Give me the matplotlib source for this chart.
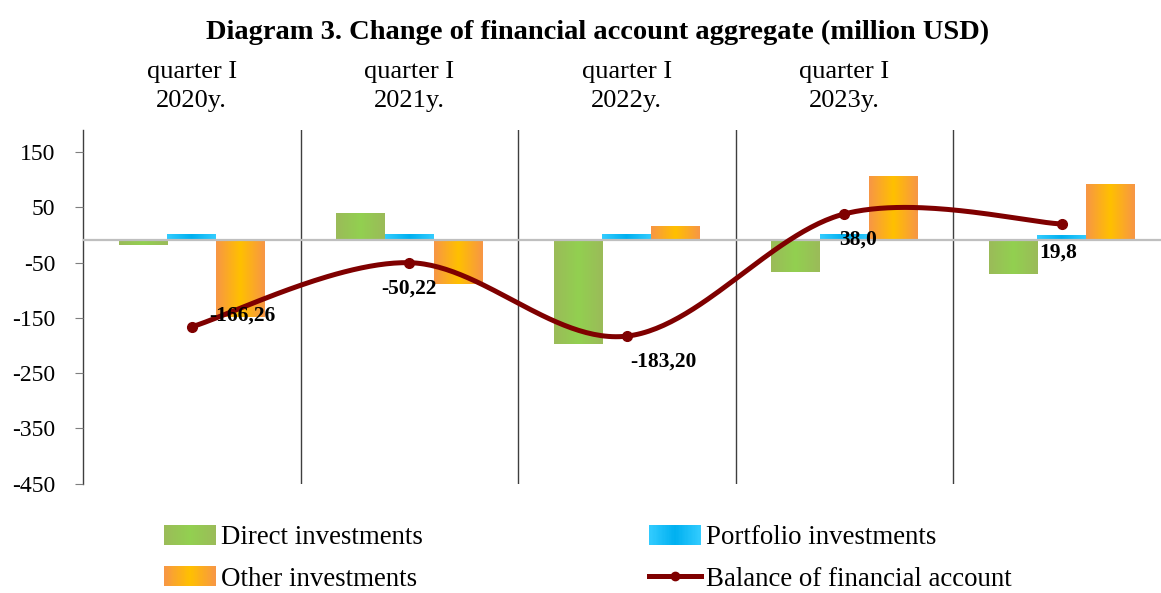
import numpy as np
import matplotlib
matplotlib.use("Agg")
import matplotlib.pyplot as plt
from matplotlib.colors import LinearSegmentedColormap
from matplotlib.patches import Rectangle, Patch
from matplotlib.lines import Line2D
from matplotlib.legend_handler import HandlerBase

# ---------------- data ----------------
categories = ["quarter I\n2020y.", "quarter I\n2021y.", "quarter I\n2022y.",
              "quarter I\n2023y.", ""]
direct = [-9, 48, -188, -57, -61]
portfolio = [10, 10, 10, 10, 8]
other = [-138, -79, 24, 115, 100]
balance = [-166.26, -50.22, -183.20, 38.0, 19.8]
balance_labels = ["-166,26", "-50,22", "-183,20", "38,0", "19,8"]
yticks = [150, 50, -50, -150, -250, -350, -450]

series_names = ["Direct investments", "Portfolio investments",
                "Other investments", "Balance of financial account"]

plt.rcParams['font.family'] = ['Liberation Serif', 'DejaVu Serif']
plt.rcParams['axes.unicode_minus'] = False

# gradient colours (edge, centre)
grad_colors = {
    "direct": ("#9BBB59", "#92D050"),
    "portfolio": ("#33CCFF", "#00B0F0"),
    "other": ("#F79646", "#FFC000"),
}
line_color = "#7F0000"

W, H = 1161, 593
fig = plt.figure(figsize=(W / 100, H / 100), dpi=100)

left_px, right_px, top_px, bottom_px = 83, 1161, 130, 483.5
ax = fig.add_axes([left_px / W, (H - bottom_px) / H,
                   (right_px - left_px) / W, (bottom_px - top_px) / H])

group_px = 217.5
x = np.arange(len(categories))
bw = 0.223

def make_cmap(key):
    e, c = grad_colors[key]
    return LinearSegmentedColormap.from_list(key, [e, c])

s = np.linspace(0, 1, 128)
profile = (1 - np.abs(2 * s - 1))[None, :]

for vals, off, key in [(direct, -bw, "direct"), (portfolio, 0, "portfolio"),
                       (other, bw, "other")]:
    bars = ax.bar(x + off, vals, width=bw, color="none", edgecolor="none", zorder=2)
    cmap = make_cmap(key)
    for r in bars:
        x0, y0, w, h = r.get_x(), r.get_y(), r.get_width(), r.get_height()
        ax.imshow(profile, extent=(x0, x0 + w, min(y0, y0 + h), max(y0, y0 + h)),
                  aspect="auto", cmap=cmap, vmin=0, vmax=1, zorder=2,
                  interpolation="bilinear")

ax.axhline(0, color="#BFBFBF", lw=1.6, zorder=3)
for b in np.arange(0.5, len(categories) - 0.5, 1.0):
    ax.axvline(b, color="#3F3F3F", lw=1.0, zorder=1)

ax.set_xlim(-0.5, -0.5 + (right_px - left_px) / group_px)
ax.set_ylim(-440.2, 199.8)
ax.set_yticks([])
for sp in ["top", "right", "bottom"]:
    ax.spines[sp].set_visible(False)
ax.spines["left"].set_color("#3F3F3F")
ax.spines["left"].set_linewidth(1.0)

ax.xaxis.tick_top()
ax.set_xticks(x, categories)
ax.tick_params(axis="x", length=0, pad=13, labelsize=19)
for t in ax.get_xticklabels():
    t.set_linespacing(1.42)

# line axis (visible y-axis)
ax2 = ax.twinx()
ax2.set_ylim(-450, 190)
ax2.yaxis.set_ticks_position("left")
ax2.yaxis.set_label_position("left")
ax2.set_yticks(yticks)
ax2.tick_params(axis="y", direction="out", length=6, color="#7F7F7F",
                pad=14, labelsize=17)
for sp in ["top", "right", "bottom", "left"]:
    ax2.spines[sp].set_visible(False)

# smooth line (Catmull-Rom style bezier as in Excel)
P = np.column_stack([x, balance]).astype(float)
curve = []
n = len(P)
t = np.linspace(0, 1, 60)
for i in range(n - 1):
    p0 = P[i]
    p3 = P[i + 1]
    pm = P[i - 1] if i > 0 else P[i]
    pp = P[i + 2] if i + 2 < n else P[i + 1]
    c1 = p0 + (p3 - pm) / 6
    c2 = p3 - (pp - p0) / 6
    seg = ((1 - t)[:, None] ** 3 * p0 + 3 * ((1 - t) ** 2 * t)[:, None] * c1
           + 3 * ((1 - t) * t ** 2)[:, None] * c2 + (t ** 3)[:, None] * p3)
    curve.append(seg if i == 0 else seg[1:])
curve = np.vstack(curve)
ax2.plot(curve[:, 0], curve[:, 1], color=line_color, lw=3.6, zorder=4,
         solid_capstyle="round")
ax2.plot(x, balance, "o", color=line_color, ms=7, zorder=5)

offsets = [(51, 11), (0, -26), (37, -25), (14, -26), (-4, -29)]
for xi, v, lab, off in zip(x, balance, balance_labels, offsets):
    ax2.annotate(lab, (xi, v), xytext=off, textcoords="offset pixels",
                 ha="center", va="center", fontsize=15.5, fontweight="bold",
                 zorder=6)

fig.text(597.5 / W, 1 - 32 / H,
         "Diagram 3. Change of financial account aggregate (million USD)",
         ha="center", va="center", fontsize=20.5, fontweight="bold")

# legend with gradient patches
class GradientPatch(Patch):
    def __init__(self, key, **kw):
        super().__init__(**kw)
        self.key = key

class HandlerGradient(HandlerBase):
    def create_artists(self, legend, orig_handle, xdescent, ydescent,
                       width, height, fontsize, trans):
        cmap = make_cmap(orig_handle.key)
        nstrip = 40
        arts = []
        for k in range(nstrip):
            c = (k + 0.5) / nstrip
            val = 1 - abs(2 * c - 1)
            r = Rectangle((-xdescent + k * width / nstrip, -ydescent),
                          width / nstrip * 1.05, height,
                          facecolor=cmap(val), edgecolor="none", transform=trans)
            arts.append(r)
        return arts

h_direct = GradientPatch("direct")
h_port = GradientPatch("portfolio")
h_other = GradientPatch("other")
h_bal = Line2D([], [], color=line_color, lw=3.6, marker="o", ms=6)

handles = [h_direct, h_other, h_port, h_bal]
labels = [series_names[0], series_names[2], series_names[1], series_names[3]]
leg = fig.legend(handles, labels, ncol=2, loc="upper left",
                 bbox_to_anchor=(164 / W, 1 - 525 / H), frameon=False,
                 fontsize=19.4, handlelength=1.93, handleheight=0.75,
                 handletextpad=0.18, columnspacing=8.4, labelspacing=0.6,
                 borderaxespad=0, borderpad=0, numpoints=1,
                 handler_map={GradientPatch: HandlerGradient()})

fig.savefig("out.png", dpi=100)
